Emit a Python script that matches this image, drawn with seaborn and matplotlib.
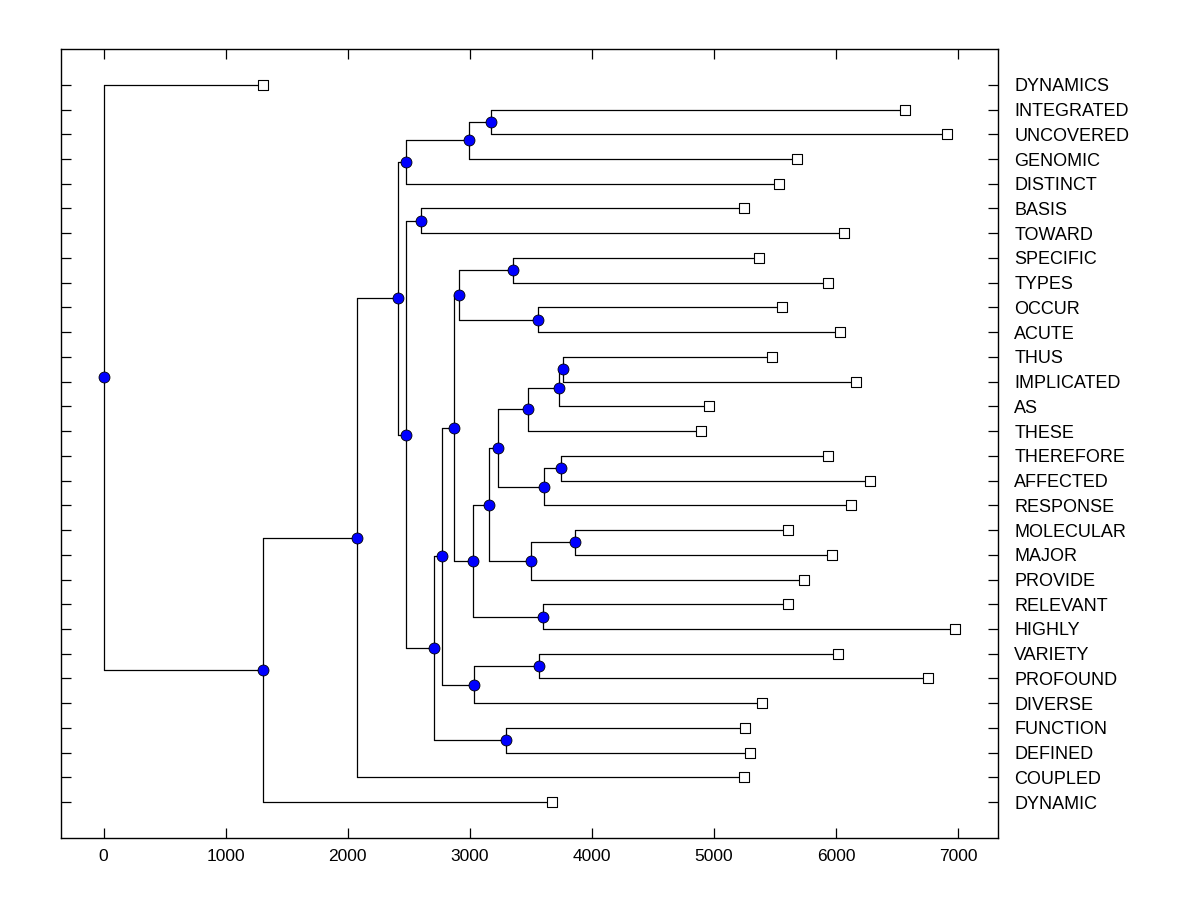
import matplotlib
matplotlib.use("Agg")
import matplotlib.pyplot as plt
import seaborn as sns
import pandas as pd

# ---- data ----
leaves = ["DYNAMICS", "INTEGRATED", "UNCOVERED", "GENOMIC", "DISTINCT", "BASIS",
          "TOWARD", "SPECIFIC", "TYPES", "OCCUR", "ACUTE", "THUS", "IMPLICATED",
          "AS", "THESE", "THEREFORE", "AFFECTED", "RESPONSE", "MOLECULAR", "MAJOR",
          "PROVIDE", "RELEVANT", "HIGHLY", "VARIETY", "PROFOUND", "DIVERSE",
          "FUNCTION", "DEFINED", "COUPLED", "DYNAMIC"]
leaf_dist = [1304, 6564, 6909, 5680, 5533, 5245, 6066, 5370, 5934, 5558, 6031,
             5476, 6163, 4959, 4893, 5934, 6279, 6122, 5605, 5966, 5737, 5611,
             6975, 6016, 6752, 5392, 5254, 5295, 5245, 3676]

node_names = ["R", "N1", "N2", "N3", "N4", "N6", "N7", "N5", "N8", "N9", "N11",
              "N10", "N13", "N14", "N12", "N15", "N17", "N18", "N16", "N20",
              "N19", "N22", "N23", "N21", "N25", "N26", "N24", "N27", "N28"]
node_dist = [0, 1304, 2077, 2413, 2479, 2997, 3176, 2479, 2601, 2708, 3299,
             2774, 3035, 3569, 2872, 2915, 3358, 3563, 3029, 3604,
             3161, 3503, 3864, 3233, 3610, 3751, 3481, 3729, 3761]
node_left = ["DYNAMICS", "N2", "N3", "N4", "N6", "N7", "INTEGRATED", "N8", "BASIS",
             "N10", "FUNCTION", "N12", "N14", "VARIETY", "N15", "N17", "SPECIFIC",
             "OCCUR", "N19", "RELEVANT", "N21", "N23", "MOLECULAR", "N24", "N26",
             "THEREFORE", "N27", "N28", "THUS"]
node_right = ["N1", "DYNAMIC", "COUPLED", "N5", "DISTINCT", "GENOMIC", "UNCOVERED",
              "N9", "TOWARD", "N11", "DEFINED", "N13", "DIVERSE", "PROFOUND", "N16",
              "N18", "TYPES", "ACUTE", "N20", "HIGHLY", "N22", "PROVIDE", "MAJOR",
              "N25", "RESPONSE", "AFFECTED", "THESE", "AS", "IMPLICATED"]

# ---- layout from tree ----
xpos = {n: d for n, d in zip(leaves, leaf_dist)}
xpos.update({n: d for n, d in zip(node_names, node_dist)})
children = {n: (l, r) for n, l, r in zip(node_names, node_left, node_right)}
ypos = {n: i for i, n in enumerate(leaves)}


def get_y(n):
    if n not in ypos:
        a, b = children[n]
        ypos[n] = (get_y(a) + get_y(b)) / 2.0
    return ypos[n]


for n in node_names:
    get_y(n)

sns.set_theme(style="white")
plt.rcParams["font.family"] = ["Liberation Sans", "DejaVu Sans"]

fig = plt.figure(figsize=(12, 9), dpi=100)
ax = fig.add_axes([0.0508, 0.0689, 0.7805, 0.8767])

lw = 0.9
for n in node_names:
    a, b = children[n]
    px = xpos[n]
    ax.plot([px, px], [ypos[a], ypos[b]], color="black", lw=lw, zorder=1)
    for c in (a, b):
        ax.plot([px, xpos[c]], [ypos[c], ypos[c]], color="black", lw=lw, zorder=1)

nodes_df = pd.DataFrame({"x": [xpos[n] for n in node_names],
                         "y": [ypos[n] for n in node_names]})
leaves_df = pd.DataFrame({"x": leaf_dist, "y": list(range(len(leaves)))})

sns.scatterplot(data=leaves_df, x="x", y="y", marker="s", s=42, color="white",
                edgecolor="black", linewidth=0.8, ax=ax, zorder=3)
sns.scatterplot(data=nodes_df, x="x", y="y", marker="o", s=62, color="#0000ff",
                edgecolor="black", linewidth=0.6, ax=ax, zorder=4)

ax.margins(x=0.05, y=0.05)
ax.invert_yaxis()

ax.set_xticks([0, 1000, 2000, 3000, 4000, 5000, 6000, 7000])
ax.set_yticks(list(range(len(leaves))))
ax.set_yticklabels(leaves)
ax.set_xlabel("")
ax.set_ylabel("")

for s in ax.spines.values():
    s.set_color("black")
    s.set_linewidth(1.0)

ax.tick_params(axis="x", which="both", direction="in", length=7.5, width=0.9,
               color="black", top=True, bottom=True, labeltop=False,
               labelbottom=True, labelsize=12.5, pad=8, labelcolor="black")
ax.tick_params(axis="y", which="both", direction="in", length=7.5, width=0.9,
               color="black", left=True, right=True, labelleft=False,
               labelright=True, labelsize=13, pad=12, labelcolor="black")

fig.savefig("out.png", dpi=100, facecolor="white")
